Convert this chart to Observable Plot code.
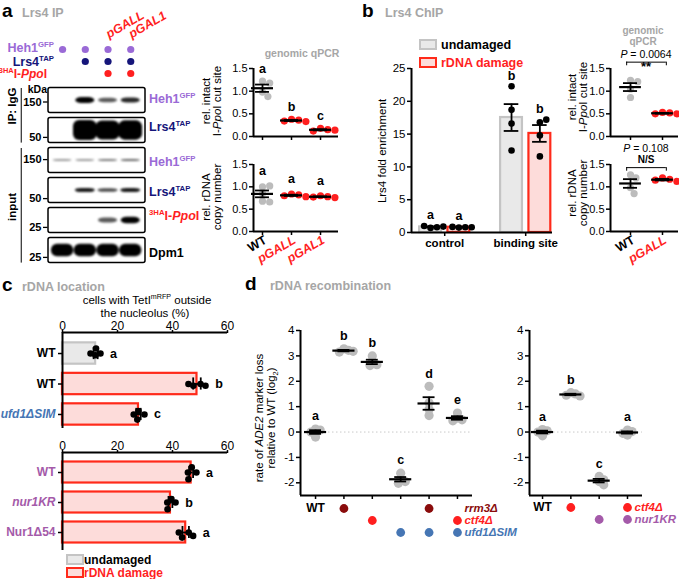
<!DOCTYPE html>
<html><head><meta charset="utf-8">
<script src="https://cdn.jsdelivr.net/npm/d3@7"></script>
<script src="https://cdn.jsdelivr.net/npm/@observablehq/plot@0.6"></script>
<style>
html,body{margin:0;padding:0;background:#fff;}
#fig{position:relative;width:679px;height:579px;overflow:hidden;font-family:'Liberation Sans',Arial,Helvetica,sans-serif;}
</style></head><body><div id="fig"></div>
<script>
// ================= DATA =================
// --- panel a: lane annotations (1 = present) ---
const laneRowNames = ["Heh1GFP", "Lrs4TAP", "3HA-I-PpoI"];
const laneHeh1 = [1, 1, 1, 1];
const laneLrs4 = [0, 1, 1, 1];
const lanePpoI = [0, 0, 1, 1];
const lanePromoter = ["", "", "pGALL", "pGAL1"];
// --- panel a: western blot rows, band intensities (lanes 1-4) ---
const blotRows = ["IP Heh1GFP", "IP Lrs4TAP", "input Heh1GFP", "input Lrs4TAP", "input 3HA-I-PpoI", "input Dpm1"];
const bandIntensity = [
  [0, 1.0, 0.55, 0.75],
  [0, 1.0, 0.93, 0.95],
  [0.3, 0.3, 0.42, 0.5],
  [0, 0.8, 0.6, 0.8],
  [0, 0, 0.55, 1.0],
  [1, 1, 1, 1]
];
const blotGroups = ["IP: IgG", "input"];
const blotGroupFirstRow = [0, 2];
const blotGroupLastRow = [1, 5];
const markerKDa = ["150", "50", "150", "50", "25", "25"];
const markerInRow = [0.05, 0.23, -0.03, 0.27, 0.23, 0.23];
// --- panel a: genomic qPCR ---
const aCats = ["WT", "pGALL", "pGAL1"];
const aCutSite = [[1.22, 1.18, 0.98, 0.88], [0.38, 0.36, 0.34, 0.33], [0.18, 0.15, 0.12, 0.14]];
const aCutLetters = ["a", "b", "c"];
const aCopy = [[1.0, 1.02, 0.85, 0.68, 0.66], [0.84, 0.82, 0.8, 0.78], [0.8, 0.78, 0.77, 0.76]];
const aCopyLetters = ["a", "a", "a"];
// --- panel b: ChIP ---
const bGroups = ["control", "binding site"];
const bConds = ["undamaged", "rDNA damage"];
const bEnrichControl = [[0.7, 0.8, 1.0, 0.9], [0.75, 0.8, 0.85, 0.8]];
const bEnrichBinding = [[22.3, 18.7, 16.6, 12.5], [16.8, 17.2, 14.8, 11.6]];
const bLetters = [["a", "a"], ["b", "b"]];
// --- panel b: genomic qPCR ---
const bqCats = ["WT", "pGALL"];
const bqCut = [[1.24, 1.21, 1.05, 0.86], [0.53, 0.52, 0.5, 0.5]];
const bqCopy = [[1.27, 1.2, 0.98, 0.85], [1.2, 1.17, 1.15, 1.12]];
const bqPvalues = ["0.0064", "0.108"];
const bqSig = ["**", "N/S"];
// --- panel c: rDNA location ---
const cTopNames = ["WT", "WT", "ufd1ΔSIM"];
const cTopConds = ["undamaged", "rDNA damage", "rDNA damage"];
const cTopVals = [[10.2, 13.8, 12.0, 12.2], [45.8, 47.6, 50.2, 52.0], [25.9, 29.8, 27.2, 27.6]];
const cTopLetters = ["a", "b", "c"];
const cBotNames = ["WT", "nur1KR", "Nur1Δ54"];
const cBotConds = ["rDNA damage", "rDNA damage", "rDNA damage"];
const cBotVals = [[45.6, 48.7, 45.8, 47.0], [38.1, 41.1, 38.2, 39.6], [42.3, 45.9, 43.5, 47.5]];
const cBotLetters = ["a", "b", "a"];
// --- panel d: rDNA recombination ---
const dLeftVals = [[0.12, 0.08, 0.0, -0.2], [3.28, 3.22, 3.15, 3.18], [3.0, 2.78, 2.65, 2.62],
                   [-1.62, -1.85, -1.95, -2.02], [1.8, 1.15, 0.9, 0.65], [0.75, 0.55, 0.48, 0.44]];
const dLeftLetters = ["a", "b", "b", "c", "d", "e"];
const dLeftGenes = ["rrm3Δ", "ctf4Δ", "ufd1ΔSIM"];
const dLeftGenotype = [[0, 1, 0, 0, 1, 0], [0, 0, 1, 0, 0, 1], [0, 0, 0, 1, 1, 1]];
const dRightVals = [[0.1, 0.05, 0.0, -0.15], [1.55, 1.5, 1.45, 1.42], [-1.75, -1.88, -1.95, -2.08], [0.08, 0.02, -0.05, -0.12]];
const dRightLetters = ["a", "b", "c", "a"];
const dRightGenes = ["ctf4Δ", "nur1KR"];
const dRightGenotype = [[0, 1, 0, 1], [0, 0, 1, 1]];

// ================= STYLE =================
const FONT = "'Liberation Sans', Arial, Helvetica, sans-serif";
const RED = "#ff1f1f", PURPLE = "#9a6ad6", NAVY = "#15157a", GREY = "#a6a6a6",
      PTGREY = "#bcbcbc", BLUE = "#4676b4", MAGENTA = "#a45aa9", DARKRED = "#8a0c0c";
const FILL = {"undamaged": "#e9e9e9", "rDNA damage": "#fddcda"};
const STROKE = {"undamaged": "#c4c4c4", "rDNA damage": "#ff2a1a"};
const STYLE = {fontFamily: FONT, fontSize: "10.5px", background: "transparent", overflow: "visible", color: "black"};
const fig = document.getElementById("fig");
function place(svg, left, top) {
  svg.style.position = "absolute"; svg.style.left = left + "px"; svg.style.top = top + "px";
  fig.appendChild(svg);
}
// simple deterministic beeswarm: returns perpendicular offsets in px
function swarm(vals, pxPerVal, r, step, minDist) {
  const placed = [], out = [];
  for (const v of vals) {
    const p = v * pxPerVal; let off = 0;
    for (let k = 0; k < 60; k++) {
      const cand = k === 0 ? 0 : (k % 2 ? 1 : -1) * Math.ceil(k / 2) * step;
      if (placed.every(([q, o]) => Math.hypot(q - p, o - cand) >= minDist)) { off = cand; break; }
    }
    placed.push([p, off]); out.push(off);
  }
  return out;
}
const sem = v => d3.deviation(v) / Math.sqrt(v.length);

// ================= SCATTER (mean ± SEM) PANELS =================
function scatterPanel(o) {
  const pxX = (o.width - o.mL - o.mR) / (o.xDom[1] - o.xDom[0]);
  const pxY = (o.height - o.mT - o.mB) / (o.yDom[1] - o.yDom[0]);
  const pts = [], stats = [];
  o.vals.forEach((v, i) => {
    const offs = swarm(v, pxY, o.r, o.r * o.stepF, 2 * o.r * o.overlap);
    v.forEach((y, j) => pts.push({i, y, x: i + offs[j] / pxX}));
    const m = d3.mean(v), s = sem(v);
    stats.push({i, mean: m, lo: m - s, hi: m + s, top: Math.max(d3.max(v), m + s), letter: o.letters[i]});
  });
  const topAll = d3.max(stats, d => d.top);
  const marks = [
    ...(o.pre ? o.pre(topAll) : []),
    Plot.ruleX([o.xDom[0]], {strokeWidth: 2}),
    Plot.ruleY([o.yDom[0]], {strokeWidth: 2}),
    Plot.axisY({ticks: o.yTicks, tickFormat: o.fmt, tickSize: 4, strokeWidth: 1.5, tickPadding: 2, fontSize: o.tickFont}),
    Plot.axisX({ticks: d3.range(o.vals.length), tickFormat: () => "", tickSize: 4, strokeWidth: 1.5}),
    Plot.dot(pts, {x: "x", y: "y", r: o.r, fill: d => o.colors[d.i]}),
    Plot.ruleY(stats, {y: "mean", x1: d => d.i - o.meanHalf, x2: d => d.i + o.meanHalf, strokeWidth: 2.2}),
    Plot.ruleX(stats, {x: "i", y1: "lo", y2: "hi", strokeWidth: 1.8}),
    Plot.ruleY(stats.flatMap(d => [{i: d.i, y: d.lo}, {i: d.i, y: d.hi}]),
      {y: "y", x1: d => d.i - o.capHalf, x2: d => d.i + o.capHalf, strokeWidth: 1.8}),
    Plot.text(stats, {x: "i", y: d => d.top + o.letterPad, text: "letter", fontWeight: "bold", fontSize: 12.5}),
    ...(o.post ? o.post(topAll) : [])
  ];
  const svg = Plot.plot({width: o.width, height: o.height, marginLeft: o.mL, marginRight: o.mR,
    marginTop: o.mT, marginBottom: o.mB, x: {domain: o.xDom, label: null}, y: {domain: o.yDom, label: null},
    style: STYLE, marks});
  place(svg, o.left, o.top);
}
function xLabels(cats) {
  const labs = cats.map((c, i) => ({c, i}));
  const common = {x: "i", text: "c", frameAnchor: "bottom", dy: 11, dx: 5, rotate: -30, textAnchor: "end", fontWeight: "bold", fontSize: 12.5};
  return [
    Plot.text(labs, {...common, filter: d => d.i === 0, fill: "black"}),
    Plot.text(labs, {...common, filter: d => d.i > 0, fill: RED, fontStyle: "italic"})
  ];
}
function bracket(pad, tick) {
  return topAll => {
    const y = topAll + pad;
    return [Plot.ruleY([y], {x1: -0.12, x2: 1.12, strokeWidth: 1}),
            Plot.ruleX([-0.12, 1.12], {y1: y, y2: y - tick, strokeWidth: 1})];
  };
}
const fmt1 = d => d.toFixed(1);
const aColors = aCats.map((c, i) => i === 0 ? PTGREY : RED);
const aGeom = {width: 145, mL: 53, mR: 7, xDom: [-0.31, 2.62], yDom: [0, 1.5], yTicks: [0, 0.5, 1, 1.5], fmt: fmt1,
  r: 3.6, stepF: 0.5, overlap: 0.85, meanHalf: 0.38, capHalf: 0.24, colors: aColors, tickFont: 11};
scatterPanel({...aGeom, vals: aCutSite, letters: aCutLetters, left: 200, top: 45, height: 100, mT: 23, mB: 9, letterPad: 0.27});
scatterPanel({...aGeom, vals: aCopy, letters: aCopyLetters, left: 200, top: 150, height: 130, mT: 14, mB: 49, letterPad: 0.33,
  post: () => xLabels(aCats)});

const bqColors = [PTGREY, RED];
const bqGeom = {width: 119, mL: 50, mR: 1, xDom: [-0.625, 1.5], yDom: [0, 1.5], yTicks: [0, 0.5, 1, 1.5], fmt: fmt1,
  r: 3.6, stepF: 0.5, overlap: 0.85, meanHalf: 0.34, capHalf: 0.22, colors: bqColors, letters: ["", ""], letterPad: 0, tickFont: 11};
scatterPanel({...bqGeom, vals: bqCut, left: 560, top: 45, height: 100, mT: 23, mB: 9, post: bracket(0.4, 0.08)});
scatterPanel({...bqGeom, vals: bqCopy, left: 560, top: 150, height: 130, mT: 14, mB: 49,
  post: t => [...bracket(0.16, 0.08)(t), ...xLabels(bqCats)]});

const dGeom = {yDom: [-2.5, 4], yTicks: [-2, -1, 0, 1, 2, 3, 4], fmt: d => String(d), r: 4.6, stepF: 0.5, overlap: 0.5,
  meanHalf: 0.39, capHalf: 0.21, letterPad: 0.5, height: 190, mT: 15, mB: 10, top: 315, tickFont: 11.5,
  pre: () => [Plot.ruleY([0], {stroke: "#c9c9c9", strokeDasharray: "1.5,2.5", strokeWidth: 1})]};
scatterPanel({...dGeom, vals: dLeftVals, letters: dLeftLetters, colors: dLeftVals.map(() => PTGREY),
  left: 245, width: 235, mL: 55, mR: 8, xDom: [-0.53, 5.53]});
scatterPanel({...dGeom, vals: dRightVals, letters: dRightLetters, colors: dRightVals.map(() => PTGREY),
  left: 480, width: 170, mL: 49, mR: 8, xDom: [-0.46, 3.53]});

// genotype matrices under panel d
function matrixPanel(o) {
  const cells = [];
  o.genotype.forEach((row, r) => row.forEach((v, c) => { if (v) cells.push({g: o.genes[r], c, color: o.colors[r]}); }));
  const nCols = o.genotype[0].length;
  const svg = Plot.plot({width: o.width, height: 40, marginLeft: o.mL, marginRight: o.mR, marginTop: 7,
    marginBottom: 40 - 7 - 12.5 * (o.genes.length - 1),
    x: {domain: o.xDom, axis: null}, y: {type: "point", domain: o.genes, padding: 0, axis: null}, style: STYLE,
    marks: [
      Plot.dot(cells, {x: "c", y: "g", r: 4.4, fill: "color"}),
      Plot.text(["WT"], {x: () => 0, y: () => o.genes[0], text: d => d, fontWeight: "bold", fontSize: 12}),
      Plot.text(o.genes, {x: () => nCols - 1, y: d => d, dx: 7, text: d => d, textAnchor: "start",
        fill: (d, i) => o.colors[i], fontStyle: "italic", fontWeight: "bold", fontSize: 11.5})
    ]});
  place(svg, o.left, o.top);
}
matrixPanel({genes: dLeftGenes, genotype: dLeftGenotype, colors: [DARKRED, RED, BLUE], left: 245, top: 500, width: 235, mL: 55, mR: 8, xDom: [-0.53, 5.53]});
matrixPanel({genes: dRightGenes, genotype: dRightGenotype, colors: [RED, MAGENTA], left: 480, top: 500, width: 170, mL: 49, mR: 8, xDom: [-0.46, 3.53]});

// ================= PANEL b BAR CHART =================
{
  const bBars = [];
  [bEnrichControl, bEnrichBinding].forEach((g, gi) => g.forEach((v, ci) => {
    const m = d3.mean(v), s = sem(v);
    bBars.push({gi, ci, cond: bConds[ci], pos: gi + ci * 0.35, v, mean: m, lo: m - s, hi: m + s,
      top: Math.max(d3.max(v), m + s), letter: bLetters[gi][ci]});
  }));
  const xDom = [-0.235, 1.506], W = 190, H = 200, mL = 41, mR = 8, mT = 13, mB = 23;
  const pxX = (W - mL - mR) / (xDom[1] - xDom[0]), pxY = (H - mT - mB) / 25;
  const pts = bBars.flatMap(b => { const offs = swarm(b.v, pxY, 3.3, 1.6, 5.8); return b.v.map((y, j) => ({y, x: b.pos + offs[j] / pxX})); });
  const svg = Plot.plot({width: W, height: H, marginLeft: mL, marginRight: mR, marginTop: mT, marginBottom: mB,
    x: {domain: xDom, label: null}, y: {domain: [0, 25], label: null}, style: STYLE,
    marks: [
      Plot.rectY(bBars, {x1: d => d.pos - 0.135, x2: d => d.pos + 0.135, y1: 0, y2: "mean",
        fill: d => FILL[d.cond], stroke: d => STROKE[d.cond], strokeWidth: 2.2}),
      Plot.ruleX([xDom[0]], {strokeWidth: 2}),
      Plot.ruleY([0], {strokeWidth: 2}),
      Plot.axisY({ticks: [0, 5, 10, 15, 20, 25], tickSize: 4, strokeWidth: 1.5, tickPadding: 2, fontSize: 11.5}),
      Plot.axisX({ticks: bGroups.map((g, i) => i + 0.175), tickFormat: () => "", tickSize: 4, strokeWidth: 1.5}),
      Plot.dot(pts, {x: "x", y: "y", r: 3.3, fill: "black"}),
      Plot.ruleX(bBars, {x: "pos", y1: "lo", y2: "hi", strokeWidth: 1.8}),
      Plot.ruleY(bBars.flatMap(d => [{pos: d.pos, y: d.lo}, {pos: d.pos, y: d.hi}]),
        {y: "y", x1: d => d.pos - 0.09, x2: d => d.pos + 0.09, strokeWidth: 1.8}),
      Plot.text(bBars, {x: "pos", y: d => d.top + 1.6, text: "letter", fontWeight: "bold", fontSize: 12.5}),
      Plot.text(bGroups, {x: (d, i) => i + 0.175, text: d => d, frameAnchor: "bottom", dy: 14, fontWeight: "bold", fontSize: 11.5})
    ]});
  place(svg, 370, 55);
}

// ================= PANEL c HORIZONTAL BARS =================
function hbarPanel(o) {
  const W = 240, mL = 62, mR = 13;
  const pxX = (W - mL - mR) / 60, pxY = (o.height - o.mT - o.mB) / (o.yDom[1] - o.yDom[0]);
  const stats = [], pts = [];
  o.vals.forEach((v, i) => {
    const m = d3.mean(v), s = sem(v);
    stats.push({i, name: o.names[i], cond: o.conds[i], mean: m, lo: m - s, hi: m + s, top: Math.max(d3.max(v), m + s),
      letter: o.letters[i], color: o.nameColors[i], italic: o.nameItalic[i]});
    const offs = swarm(v, pxX, 3.3, 1.7, 5.2);
    v.forEach((x, j) => pts.push({x, y: i + offs[j] / pxY}));
  });
  const lab = {y: "i", text: "name", frameAnchor: "left", dx: -7, textAnchor: "end", fill: "color", fontWeight: "bold", fontSize: 12};
  const svg = Plot.plot({width: W, height: o.height, marginLeft: mL, marginRight: mR, marginTop: o.mT, marginBottom: o.mB,
    x: {domain: [0, 60], label: null}, y: {domain: o.yDom, reverse: true, label: null}, style: STYLE,
    marks: [
      Plot.rectX(stats, {y1: d => d.i - 0.35, y2: d => d.i + 0.35, x1: 0, x2: "mean",
        fill: d => FILL[d.cond], stroke: d => STROKE[d.cond], strokeWidth: 2.2}),
      Plot.ruleY([o.yDom[0]], {strokeWidth: 2}),
      Plot.ruleX([0], {strokeWidth: 2}),
      Plot.axisX({anchor: "top", ticks: [0, 20, 40, 60], tickSize: 3, strokeWidth: 1.5, tickPadding: 0, fontSize: 12}),
      Plot.axisY({ticks: d3.range(o.vals.length), tickFormat: () => "", tickSize: 4, strokeWidth: 1.5}),
      Plot.dot(pts, {x: "x", y: "y", r: 3.3, fill: "black"}),
      Plot.ruleY(stats, {y: "i", x1: "lo", x2: "hi", strokeWidth: 1.8}),
      Plot.ruleX(stats.flatMap(d => [{i: d.i, x: d.lo}, {i: d.i, x: d.hi}]), {x: "x", y1: d => d.i - 0.2, y2: d => d.i + 0.2, strokeWidth: 1.8}),
      Plot.text(stats, {...lab, filter: d => !d.italic}),
      Plot.text(stats, {...lab, filter: d => d.italic, fontStyle: "italic"}),
      Plot.text(stats, {y: "i", x: d => d.top + 3.5, text: "letter", textAnchor: "start", fontWeight: "bold", fontSize: 12.5})
    ]});
  place(svg, 0, o.top);
}
hbarPanel({names: cTopNames, conds: cTopConds, vals: cTopVals, letters: cTopLetters,
  nameColors: ["black", "black", BLUE], nameItalic: [false, false, true], top: 318, height: 112, mT: 14, mB: 2, yDom: [-0.69, 2.46]});
hbarPanel({names: cBotNames, conds: cBotConds, vals: cBotVals, letters: cBotLetters,
  nameColors: [MAGENTA, MAGENTA, MAGENTA], nameItalic: [false, true, false], top: 438, height: 115, mT: 14, mB: 3, yDom: [-0.667, 2.6]});

// ================= PANEL a BLOT =================
const laneDom = [-0.62, 3.65];
{
  const annot = [];
  [laneHeh1, laneLrs4, lanePpoI].forEach((arr, r) => arr.forEach((v, l) => { if (v) annot.push({r: laneRowNames[r], l}); }));
  const annotColor = {"Heh1GFP": PURPLE, "Lrs4TAP": NAVY, "3HA-I-PpoI": RED};
  const prom = lanePromoter.map((p, l) => ({p, l})).filter(d => d.p);
  const svg = Plot.plot({width: 150, height: 40, marginLeft: 48, marginRight: 5, marginTop: 8, marginBottom: 7,
    x: {domain: laneDom, axis: null}, y: {type: "point", domain: laneRowNames, padding: 0, axis: null}, style: STYLE,
    marks: [
      Plot.dot(annot, {x: "l", y: "r", r: 3.6, fill: d => annotColor[d.r]}),
      Plot.text(prom, {x: "l", y: () => laneRowNames[0], text: "p", dy: -11, dx: 1, rotate: -30, textAnchor: "start",
        lineAnchor: "bottom", fill: RED, fontStyle: "italic", fontWeight: "bold", fontSize: 12.5})
    ]});
  place(svg, 0, 40);
}
{
  const bandH = [0.2, 0.66, 0.1, 0.15, 0.22, 0.42];
  const bandW = [0.42, 0.52, 0.42, 0.44, 0.42, 0.49];
  const bands = [];
  bandIntensity.forEach((row, r) => row.forEach((v, l) => { if (v > 0) bands.push({r, l, v}); }));
  const svg = Plot.plot({width: 150, height: 190, marginLeft: 48, marginRight: 5, marginTop: 5, marginBottom: 5,
    x: {domain: laneDom, axis: null}, y: {domain: [-0.5, 5.5], reverse: true, axis: null}, style: STYLE,
    marks: [
      Plot.rect(blotRows, {x1: laneDom[0], x2: laneDom[1], y1: (d, i) => i - 0.42, y2: (d, i) => i + 0.42,
        fill: "white", stroke: "black", strokeWidth: 1.5, rx: 2}),
      Plot.rect(bands, {x1: d => d.l - bandW[d.r], x2: d => d.l + bandW[d.r],
        y1: d => d.r - bandH[d.r] * (0.45 + 0.55 * d.v) / 2, y2: d => d.r + bandH[d.r] * (0.45 + 0.55 * d.v) / 2,
        fill: "black", fillOpacity: d => Math.min(1, 0.1 + d.v), rx: 6}),
      Plot.ruleY(markerKDa, {y: (d, i) => i + markerInRow[i], x1: laneDom[0] - 0.22, x2: laneDom[0] - 0.02, strokeWidth: 1.3}),
      Plot.text(markerKDa, {y: (d, i) => i + markerInRow[i], x: () => laneDom[0], dx: -7, text: d => d, textAnchor: "end",
        fontWeight: "bold", fontSize: 11}),
      Plot.ruleX(blotGroups, {x: () => laneDom[0] - 1.2, y1: (d, i) => blotGroupFirstRow[i] - 0.4,
        y2: (d, i) => blotGroupLastRow[i] + 0.42, strokeWidth: 1})
    ]});
  const s = d3.select(svg);
  const f = s.append("defs").append("filter").attr("id", "blotblur")
    .attr("x", "-50%").attr("y", "-150%").attr("width", "200%").attr("height", "400%");
  f.append("feGaussianBlur").attr("stdDeviation", 1.1);
  s.selectAll('g[aria-label="rect"]').filter((d, i) => i === 1).attr("filter", "url(#blotblur)");
  place(svg, 0, 80);
}

// ================= TEXT OVERLAY =================
const ov = d3.select(fig).append("svg").attr("width", 679).attr("height", 579)
  .style("position", "absolute").style("left", "0px").style("top", "0px").style("font-family", FONT).style("overflow", "visible");
function T(x, y, parts, o = {}) {
  const size = o.size || 11;
  const t = ov.append("text").attr("x", x).attr("y", y).attr("font-size", size)
    .attr("font-weight", o.weight || "bold").attr("fill", o.fill || "#000").attr("text-anchor", o.anchor || "start");
  if (o.rotate) t.attr("transform", `rotate(${o.rotate} ${x} ${y})`);
  if (typeof parts === "string") parts = [[parts, ""]];
  let shift = 0;
  for (const [s, f = ""] of parts) {
    const ts = t.append("tspan").text(s);
    let want = 0;
    if (f.includes("^")) { want = -size * 0.4; ts.attr("font-size", size * 0.62); }
    if (f.includes("_")) { want = size * 0.25; ts.attr("font-size", size * 0.65); }
    if (want !== shift) { ts.attr("dy", want - shift); shift = want; }
    if (f.includes("i")) ts.attr("font-style", "italic");
  }
  return t;
}
function swatch(x, y, cond) {
  ov.append("rect").attr("x", x).attr("y", y).attr("width", 16).attr("height", 9)
    .attr("fill", FILL[cond]).attr("stroke", STROKE[cond]).attr("stroke-width", 2);
}
// panel a
T(2, 17, "a", {size: 19});
T(22, 17, "Lrs4 IP", {size: 12.5, fill: GREY});
T(54, 52, [["Heh1"], ["GFP", "^"]], {anchor: "end", size: 12.5, fill: PURPLE});
T(54, 65.5, [["Lrs4"], ["TAP", "^"]], {anchor: "end", size: 12.5, fill: NAVY});
T(47, 78, [["3HA", "^"], ["I-"], ["Ppo", "i"], ["I"]], {anchor: "end", size: 12, fill: RED});
T(47, 93, "kDa", {anchor: "end", size: 10.5});
T(16, 106, "IP: IgG", {rotate: -90, anchor: "middle", size: 11.5});
T(16, 207, "input", {rotate: -90, anchor: "middle", size: 11.5});
T(149, 103, [["Heh1"], ["GFP", "^"]], {size: 12.5, fill: PURPLE});
T(149, 131, [["Lrs4"], ["TAP", "^"]], {size: 12.5, fill: NAVY});
T(149, 166, [["Heh1"], ["GFP", "^"]], {size: 12.5, fill: PURPLE});
T(149, 196, [["Lrs4"], ["TAP", "^"]], {size: 12.5, fill: NAVY});
T(149, 220, [["3HA", "^"], ["I-"], ["Ppo", "i"], ["I"]], {size: 12.5, fill: RED});
T(149, 257, "Dpm1", {size: 12.5});
T(302, 57, "genomic qPCR", {anchor: "middle", size: 10.5, fill: GREY});
T(210, 101, "rel. intact", {rotate: -90, anchor: "middle", size: 11.5, weight: "normal"});
T(221, 101, [["I-"], ["Ppo", "i"], ["I cut site"]], {rotate: -90, anchor: "middle", size: 11.5, weight: "normal"});
T(210, 197, "rel. rDNA", {rotate: -90, anchor: "middle", size: 11.5, weight: "normal"});
T(221, 197, "copy number", {rotate: -90, anchor: "middle", size: 11.5, weight: "normal"});
// panel b
T(362, 17, "b", {size: 19});
T(385, 17, "Lrs4 ChIP", {size: 12.5, fill: GREY});
swatch(420, 40, "undamaged"); swatch(420, 58, "rDNA damage");
T(441, 49, bConds[0], {size: 12.5});
T(441, 67, bConds[1], {size: 12.5, fill: RED});
T(386, 151, "Lrs4 fold enrichment", {rotate: -90, anchor: "middle", size: 11.5, weight: "normal"});
T(643, 33.5, "genomic", {anchor: "middle", size: 10, fill: GREY});
T(643, 45, "qPCR", {anchor: "middle", size: 10, fill: GREY});
T(646, 58, [["P", "i"], [" = " + bqPvalues[0]]], {anchor: "middle", size: 10.5, weight: "normal"});
T(646, 71, bqSig[0], {anchor: "middle", size: 13});
T(646, 152, [["P", "i"], [" = " + bqPvalues[1]]], {anchor: "middle", size: 10.5, weight: "normal"});
T(646, 162.5, bqSig[1], {anchor: "middle", size: 10});
T(576, 97, "rel. intact", {rotate: -90, anchor: "middle", size: 11.5, weight: "normal"});
T(587, 97, [["I-"], ["Ppo", "i"], ["I cut site"]], {rotate: -90, anchor: "middle", size: 11.5, weight: "normal"});
T(576, 193, "rel. rDNA", {rotate: -90, anchor: "middle", size: 11.5, weight: "normal"});
T(587, 193, "copy number", {rotate: -90, anchor: "middle", size: 11.5, weight: "normal"});
// panel c
T(2, 291, "c", {size: 19});
T(22, 291, "rDNA location", {size: 12.5, fill: GREY});
T(147, 303.5, [["cells with TetI"], ["mRFP", "^"], [" outside"]], {anchor: "middle", size: 11.5, weight: "normal"});
T(145, 316.5, "the nucleolus (%)", {anchor: "middle", size: 11.5, weight: "normal"});
swatch(67, 555, "undamaged"); swatch(67, 568, "rDNA damage");
T(84, 564, "undamaged", {size: 12});
T(84, 577, "rDNA damage", {size: 12, fill: RED});
// panel d
T(245, 290, "d", {size: 19});
T(270, 290, "rDNA recombination", {size: 12.5, fill: GREY});
T(263, 418, [["rate of "], ["ADE2", "i"], [" marker loss"]], {rotate: -90, anchor: "middle", size: 11.5, weight: "normal"});
T(275, 418, [["relative to WT (log"], ["2", "_"], [")"]], {rotate: -90, anchor: "middle", size: 11.5, weight: "normal"});
</script></body></html>
